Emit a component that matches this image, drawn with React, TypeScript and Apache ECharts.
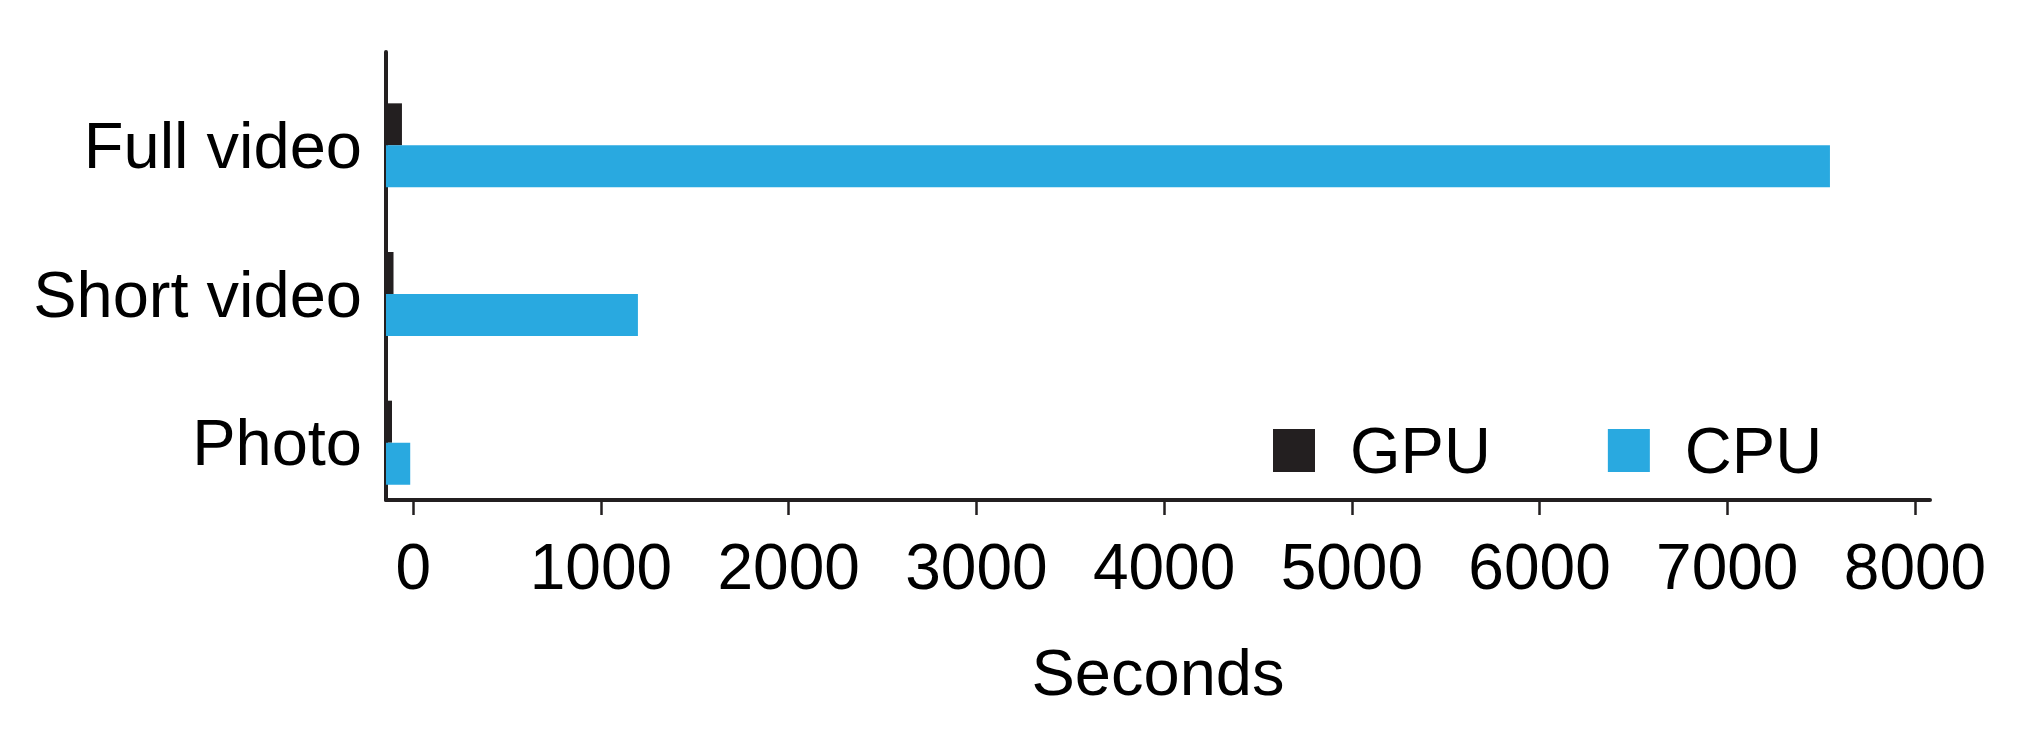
import React, { useEffect, useRef } from "react";
import * as echarts from "echarts";

// Categories (bottom to top as drawn by ECharts' y category axis)
const categories = ["Photo", "Short video", "Full video"];
// Bar ends read on the x axis (seconds)
const gpuSeconds = [-113, -105, -60];
const cpuSeconds = [-16, 1197, 7547];
// Tick labels on the x axis
const xTicks = [0, 1000, 2000, 3000, 4000, 5000, 6000, 7000, 8000];
const xMin = -145;
const xMax = 8080;

const FONT = "'Liberation Sans', Arial, sans-serif";
const INK = "#231f20";
const BLUE = "#29a9e0";

export default function App() {
  const ref = useRef<HTMLDivElement>(null);
  useEffect(() => {
    if (!ref.current) return;
    const chart = echarts.init(ref.current, null, { renderer: "svg" });
    chart.setOption({
      animation: false,
      backgroundColor: "#ffffff",
      textStyle: { fontFamily: FONT },
      legend: {
        left: 1268,
        top: 413,
        itemWidth: 42,
        itemHeight: 43,
        itemGap: 117,
        icon: "rect",
        data: ["GPU", "CPU"],
        textStyle: { fontSize: 65, color: "#000", fontFamily: FONT, padding: [0, 0, 0, 30] },
      },
      grid: [
        // bars grid
        { left: 386, right: 87, top: 71, height: 446, containLabel: false },
        // axes grid
        { left: 386, right: 87, top: 52, height: 448, containLabel: false },
      ],
      xAxis: [
        {
          gridIndex: 0,
          type: "value",
          min: xMin,
          max: xMax,
          startValue: xMin,
          show: false,
        },
        {
          gridIndex: 1,
          type: "value",
          min: xMin,
          max: xMax,
          name: "Seconds",
          nameLocation: "middle",
          nameGap: 140,
          nameTextStyle: { fontSize: 65, color: "#000", fontFamily: FONT },
          axisLine: { show: true, onZero: false, lineStyle: { color: INK, width: 4 } },
          axisTick: {
            show: true,
            customValues: xTicks,
            length: 15,
            lineStyle: { color: INK, width: 2.5 },
          },
          axisLabel: {
            customValues: xTicks,
            fontSize: 64,
            color: "#000",
            fontFamily: FONT,
            margin: 35,
            formatter: (v: number) => String(v),
          },
          splitLine: { show: false },
        },
      ],
      yAxis: [
        {
          gridIndex: 0,
          type: "category",
          data: categories,
          axisLine: { show: false },
          axisTick: { show: false },
          axisLabel: {
            fontSize: 65,
            color: "#000",
            fontFamily: FONT,
            margin: 24,
            padding: [0, 0, 8, 0],
          },
        },
        {
          gridIndex: 1,
          type: "value",
          min: 0,
          max: 1,
          axisLine: { show: true, onZero: false, lineStyle: { color: INK, width: 4 } },
          axisTick: { show: false },
          axisLabel: { show: false },
          splitLine: { show: false },
        },
      ],
      series: [
        {
          name: "GPU",
          type: "bar",
          xAxisIndex: 0,
          yAxisIndex: 0,
          data: gpuSeconds,
          barWidth: 42,
          barGap: "0%",
          itemStyle: { color: INK },
        },
        {
          name: "CPU",
          type: "bar",
          xAxisIndex: 0,
          yAxisIndex: 0,
          data: cpuSeconds,
          barWidth: 42,
          barGap: "0%",
          itemStyle: { color: BLUE },
        },
      ],
    });
    return () => chart.dispose();
  }, []);
  return (
    <div
      ref={ref}
      style={{ position: "absolute", left: 0, top: 0, width: 2017, height: 729 }}
    />
  );
}
